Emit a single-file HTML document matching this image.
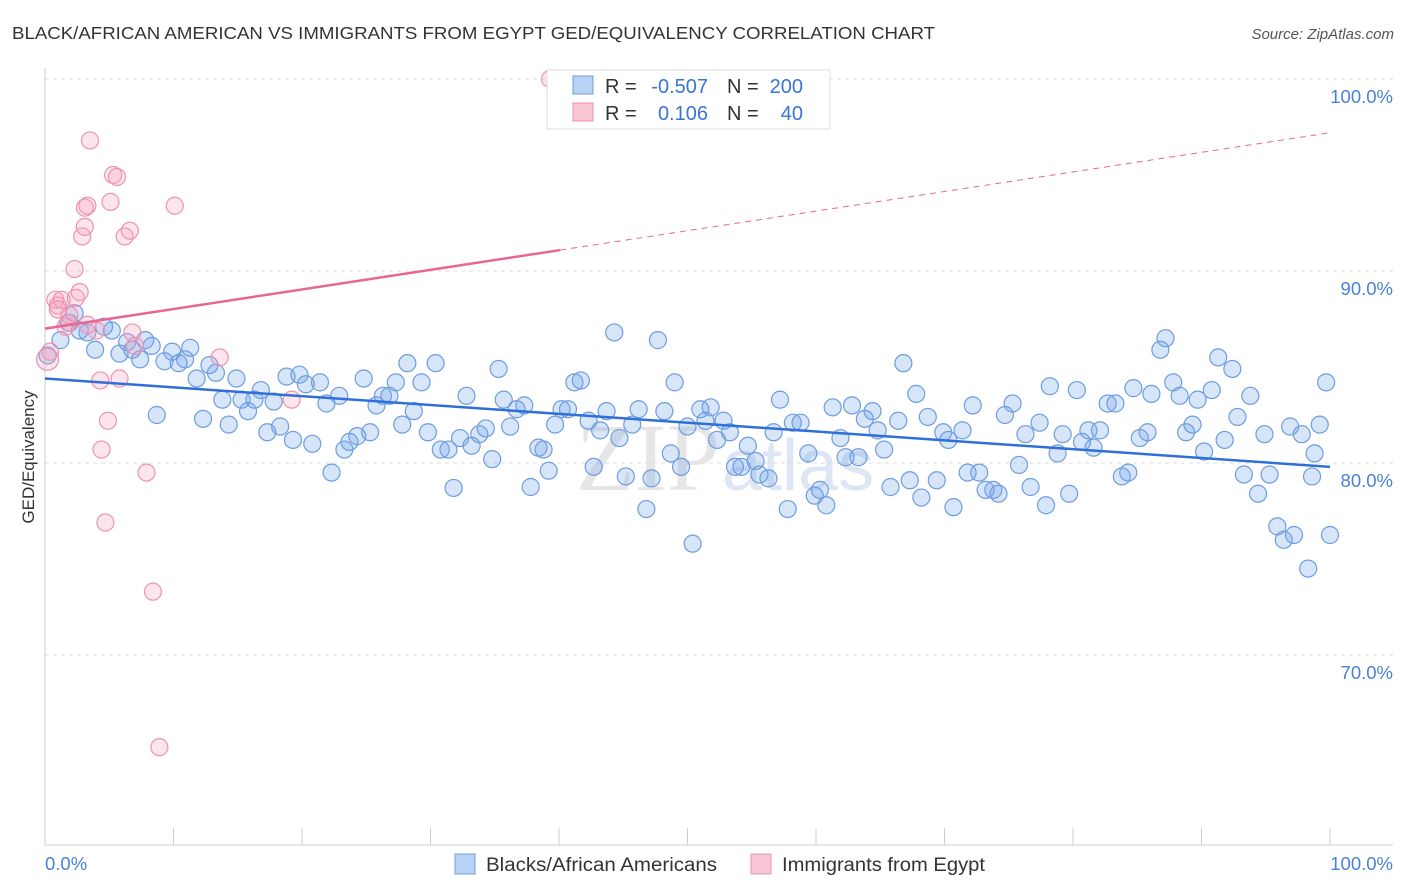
<!DOCTYPE html>
<html><head><meta charset="utf-8"><style>
body{margin:0;background:#fff;font-family:"Liberation Sans",sans-serif;}
#wrap{position:relative;width:1406px;height:892px;overflow:hidden;}
</style></head><body>
<div id="wrap">
<svg id="svg" width="1406" height="892" xmlns="http://www.w3.org/2000/svg">
<text x="12" y="39" font-size="17.5" fill="#333" textLength="923" lengthAdjust="spacingAndGlyphs">BLACK/AFRICAN AMERICAN VS IMMIGRANTS FROM EGYPT GED/EQUIVALENCY CORRELATION CHART</text>
<text x="1394" y="39" font-size="15" fill="#555" font-style="italic" text-anchor="end">Source: ZipAtlas.com</text>
<text x="720" y="490" font-size="96" fill="#e6e6e6" text-anchor="end" font-family="Liberation Serif">ZIP</text>
<text x="722" y="490" font-size="72" fill="#dce6f4">atlas</text>
<g id="grid"></g><g id="axes"></g><g id="pts"></g><g id="trend"></g>
<text transform="translate(34,457) rotate(-90)" font-size="17" fill="#333" text-anchor="middle">GED/Equivalency</text>
<g>
<rect x="547" y="70" width="283" height="59" fill="#fff" stroke="#ddd"/>
<rect x="573" y="76" width="20" height="18" fill="#b9d2f5" stroke="#6d9de0"/>
<rect x="573" y="103" width="20" height="18" fill="#f9c6d6" stroke="#ee92b0"/>
<text x="605" y="93" font-size="20" fill="#333">R =</text>
<text x="708" y="93" font-size="20" fill="#3a74d6" text-anchor="end">-0.507</text>
<text x="727" y="93" font-size="20" fill="#333">N =</text>
<text x="803" y="93" font-size="20" fill="#3a74d6" text-anchor="end">200</text>
<text x="605" y="120" font-size="20" fill="#333">R =</text>
<text x="708" y="120" font-size="20" fill="#3a74d6" text-anchor="end">0.106</text>
<text x="727" y="120" font-size="20" fill="#333">N =</text>
<text x="803" y="120" font-size="20" fill="#3a74d6" text-anchor="end">40</text>
</g>
<g>
<rect x="455" y="854" width="20" height="20" fill="#b9d2f5" stroke="#6d9de0"/>
<text x="486" y="871" font-size="19" fill="#333" textLength="231" lengthAdjust="spacingAndGlyphs">Blacks/African Americans</text>
<rect x="751" y="854" width="20" height="20" fill="#f9c6d6" stroke="#ee92b0"/>
<text x="782" y="871" font-size="19" fill="#333" textLength="203" lengthAdjust="spacingAndGlyphs">Immigrants from Egypt</text>
</g>
</svg></div>
<script>
const blueX=[0.2,1.2,1.9,2.3,2.7,3.3,3.9,4.6,5.2,5.8,6.4,6.8,7.4,7.8,8.3,8.7,9.3,9.9,10.4,10.9,11.3,11.8,12.3,12.8,13.3,13.8,14.3,14.9,15.3,15.8,16.3,16.8,17.3,17.8,18.3,18.8,19.3,19.8,20.3,20.8,21.4,21.9,22.3,22.9,23.3,23.7,24.3,24.8,25.3,25.8,26.3,26.8,27.3,27.8,28.2,28.7,29.3,29.8,30.4,30.8,31.4,31.8,32.3,32.8,33.2,33.8,34.3,34.8,35.3,35.7,36.2,36.7,37.3,37.8,38.4,38.8,39.2,39.7,40.2,40.7,41.2,41.7,42.3,42.7,43.2,43.7,44.3,44.7,45.2,45.7,46.2,46.8,47.2,47.7,48.2,48.7,49.0,49.5,50.0,50.4,51.0,51.4,51.8,52.3,52.8,53.3,53.7,54.2,54.7,55.3,55.6,56.3,56.7,57.2,57.8,58.2,58.8,59.4,59.9,60.3,60.8,61.3,61.9,62.3,62.8,63.3,63.8,64.4,64.8,65.3,65.8,66.4,66.8,67.3,67.8,68.2,68.7,69.4,69.9,70.3,70.7,71.4,71.8,72.2,72.7,73.2,73.8,74.2,74.7,75.3,75.8,76.3,76.7,77.4,77.9,78.2,78.8,79.2,79.7,80.3,80.7,81.2,81.6,82.1,82.7,83.3,83.8,84.3,84.7,85.2,85.8,86.1,86.8,87.2,87.8,88.3,88.8,89.3,89.7,90.2,90.8,91.3,91.8,92.4,92.8,93.3,93.8,94.4,94.9,95.3,95.9,96.4,97.2,97.8,98.3,98.8,99.2,99.7,100,98.6,96.9];
const blueY=[85.6,86.4,87.3,87.8,86.9,86.8,85.9,87.1,86.9,85.7,86.3,85.9,85.4,86.4,86.1,82.5,85.3,85.8,85.2,85.4,86.0,84.4,82.3,85.1,84.7,83.3,82.0,84.4,83.3,82.7,83.3,83.8,81.6,83.2,81.9,84.5,81.2,84.6,84.1,81.0,84.2,83.1,79.5,83.5,80.7,81.1,81.4,84.4,81.6,83.0,83.5,83.5,84.2,82.0,85.2,82.7,84.2,81.6,85.2,80.7,80.7,78.7,81.3,83.5,80.9,81.5,81.8,80.2,84.9,83.3,81.9,82.8,83.0,78.75,80.8,80.7,79.6,82.0,82.8,82.8,84.2,84.3,82.2,79.8,81.7,82.7,86.8,81.3,79.3,82.0,82.8,77.6,79.2,86.4,82.7,80.5,84.2,79.8,81.9,75.8,82.8,82.2,82.9,81.2,82.2,81.6,79.8,79.8,80.9,80.1,79.4,79.2,81.6,83.3,77.6,82.1,82.1,80.5,78.3,78.6,77.8,82.9,81.3,80.3,83.0,80.3,82.3,82.7,81.7,80.7,78.75,82.2,85.2,79.1,83.6,78.2,82.4,79.1,81.6,81.2,77.7,81.7,79.5,83.0,79.5,78.6,78.6,78.4,82.5,83.1,79.9,81.5,78.75,82.1,77.8,84.0,80.5,81.5,78.4,83.8,81.1,81.7,80.8,81.7,83.1,83.1,79.3,79.5,83.9,81.3,81.6,83.6,85.9,86.5,84.2,83.5,81.6,82.0,83.3,80.6,83.8,85.5,81.2,84.9,82.4,79.4,83.5,78.4,81.5,79.4,76.7,76.0,76.25,81.5,74.5,80.5,82.0,84.2,76.25,79.3,81.9];
const pinkX=[0.4,0.8,1.0,1.3,1.8,1.9,2.3,2.4,2.7,2.9,3.1,3.1,3.3,3.5,4.0,4.3,4.4,4.7,4.9,5.1,5.3,5.6,5.8,6.2,6.6,6.8,7.0,7.9,8.4,8.9,10.1,13.6,19.2,39.3,3.3,1.0,1.6,0.2];
const pinkY=[85.8,88.5,88.2,88.5,87.3,87.7,90.1,88.6,88.9,91.8,93.3,92.3,93.4,96.8,86.9,84.3,80.7,76.9,82.2,93.6,95.0,94.9,84.4,91.8,92.1,86.8,86.1,79.5,73.3,65.2,93.4,85.5,83.3,100,87.2,88.0,87.1,85.4];
const yTicks=[100,90,80,70];
const yTickLabels=["100.0%","90.0%","80.0%","70.0%"];
const blueTrend=[84.4,79.8];
const pinkTrend=[87.0,97.2];
const pinkSolidEnd=40.1;
const NS="http://www.w3.org/2000/svg";
const X0=45,X1=1330,Y100=79,PER10=192;
const sx=v=>X0+(X1-X0)*v/100;
const sy=v=>Y100+(100-v)*PER10/10;
function mk(tag,attrs,parent){const e=document.createElementNS(NS,tag);for(const k in attrs)e.setAttribute(k,attrs[k]);parent.appendChild(e);return e;}
const grid=document.getElementById('grid'),axes=document.getElementById('axes'),pts=document.getElementById('pts'),trend=document.getElementById('trend');
yTicks.forEach((t,i)=>{
 const l=mk('line',{x1:X0,x2:1393,y1:sy(t),y2:sy(t),stroke:'#ddd','stroke-dasharray':'4,4'},grid);
 
 
 const tx=mk('text',{x:1393,y:sy(t)+24,'font-size':18.5,fill:'#4a80d8','text-anchor':'end'},axes);
 tx.textContent=yTickLabels[i];
 
 
});
const ax=mk('line',{x1:X0,x2:X0,y1:68,y2:845,stroke:'#ccc'},axes);


const bx=mk('line',{x1:X0,x2:1393,y1:845,y2:845,stroke:'#ccc'},axes);


for(let i=0;i<=10;i++){
 const t=mk('line',{x1:sx(i*10),x2:sx(i*10),y1:828,y2:845,stroke:'#ccc'},axes);
 
 
}
const xl0=mk('text',{x:45,y:870,'font-size':18.5,fill:'#4a80d8'},axes);xl0.textContent='0.0%';


const xl1=mk('text',{x:1393,y:870,'font-size':18.5,fill:'#4a80d8','text-anchor':'end'},axes);xl1.textContent='100.0%';


blueX.forEach((x,i)=>{
 const c=mk('circle',{cx:sx(x),cy:sy(blueY[i]),r:8.5,fill:'rgba(110,160,235,0.28)',stroke:'#6d9de0','stroke-width':1.2},pts);
 
 
});
pinkX.forEach((x,i)=>{
 const c=mk('circle',{cx:sx(x),cy:sy(pinkY[i]),r:i==pinkX.length-1?11:8.5,fill:'rgba(245,160,190,0.28)',stroke:'#ee92b0','stroke-width':1.2},pts);
 
 
});
const bl=mk('line',{x1:sx(0),y1:sy(blueTrend[0]),x2:sx(100),y2:sy(blueTrend[1]),stroke:'#2f6fd8','stroke-width':2.5},trend);


const pAt=x=>pinkTrend[0]+(pinkTrend[1]-pinkTrend[0])*x/100;
const pl=mk('line',{x1:sx(0),y1:sy(pAt(0)),x2:sx(pinkSolidEnd),y2:sy(pAt(pinkSolidEnd)),stroke:'#e8668f','stroke-width':2.5},trend);


const pd=mk('line',{x1:sx(pinkSolidEnd),y1:sy(pAt(pinkSolidEnd)),x2:sx(100),y2:sy(pAt(100)),stroke:'#e8668f','stroke-width':1,'stroke-dasharray':'6,5'},trend);


</script>
</body></html>
